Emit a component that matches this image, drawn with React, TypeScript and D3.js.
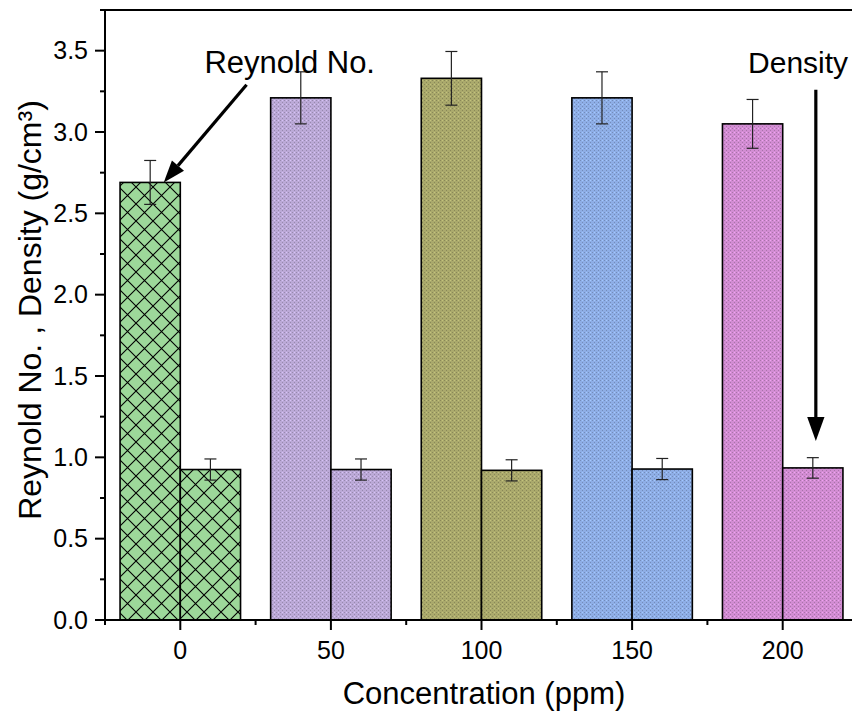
import React from 'react';
import * as d3 from 'd3';

const concentrations = [0, 50, 100, 150, 200];
const reynoldValues = [2.69, 3.21, 3.33, 3.21, 3.05];
const reynoldErrors = [0.135, 0.16, 0.165, 0.16, 0.15];
const densityValues = [0.925, 0.925, 0.92, 0.928, 0.935];
const densityErrors = [0.065, 0.065, 0.065, 0.065, 0.063];
const groupColors = ['#9dd89a', '#bba9d7', '#aaa96c', '#8eaee6', '#d28dd3'];
const yTicks = [0, 0.5, 1.0, 1.5, 2.0, 2.5, 3.0, 3.5];
const yMinorTicks = [0.25, 0.75, 1.25, 1.75, 2.25, 2.75, 3.25, 3.75];
const xMinorTicks = [-25, 25, 75, 125, 175, 225];

// annotation arrows in data units: [fromX, fromY, toX, toY]
const reynoldArrow = [22, 3.29, -5.5, 2.69];
const densityArrow = [211, 3.26, 211, 1.1];

const W = 852;
const H = 715;
const FONT = 'Arial, "Liberation Sans", sans-serif';

const x = d3.scaleLinear().domain([-25, 225]).range([105, 858]);
const y = d3.scaleLinear().domain([0, 3.75]).range([620, 10]);
const barW = x(20) - x(0);

function Arrow({ a, head }: { a: number[]; head: number }) {
  const x1 = x(a[0]), y1 = y(a[1]), x2 = x(a[2]), y2 = y(a[3]);
  const ang = Math.atan2(y2 - y1, x2 - x1);
  const bx = x2 - head * Math.cos(ang), by = y2 - head * Math.sin(ang);
  const hw = head * 0.36;
  const px = -Math.sin(ang) * hw, py = Math.cos(ang) * hw;
  return (
    <g>
      <line x1={x1} y1={y1} x2={bx} y2={by} stroke="#000" strokeWidth={3.2} />
      <path d={`M${x2},${y2}L${bx + px},${by + py}L${bx - px},${by - py}Z`} fill="#000" />
    </g>
  );
}

export default function App() {
  const errBar = (cx: number, v: number, e: number, k: string) => (
    <g key={k} stroke="#222" strokeWidth={1.2}>
      <line x1={cx} x2={cx} y1={y(v + e)} y2={y(v - e)} />
      <line x1={cx - 6} x2={cx + 6} y1={y(v + e)} y2={y(v + e)} />
      <line x1={cx - 6} x2={cx + 6} y1={y(v - e)} y2={y(v - e)} />
    </g>
  );

  return (
    <svg width={W} height={H} style={{ position: 'absolute', left: 0, top: 0, background: '#fff' }}
      fontFamily={FONT}>
      <defs>
        <pattern id="p0" width="17" height="17" patternUnits="userSpaceOnUse">
          <rect width="17" height="17" fill={groupColors[0]} />
          <path d="M0,0L17,17M17,0L0,17M-1,16L1,18M16,-1L18,1" stroke="#000" strokeWidth={1.1} />
        </pattern>
        {groupColors.slice(1).map((c, i) => (
          <pattern key={i} id={`p${i + 1}`} width="4" height="4" patternUnits="userSpaceOnUse">
            <rect width="4" height="4" fill={c} />
            <rect x="0" y="0" width="1" height="1" fill={d3.color(c)!.darker(0.6).toString()} />
            <rect x="2" y="2" width="1" height="1" fill={d3.color(c)!.darker(0.6).toString()} />
            <rect x="2" y="0" width="1" height="1" fill={d3.color(c)!.brighter(0.4).toString()} />
          </pattern>
        ))}
      </defs>

      {concentrations.map((c, i) => (
        <g key={c} stroke="#000" strokeWidth={1.6}>
          <rect x={x(c - 20)} y={y(reynoldValues[i])} width={barW} height={y(0) - y(reynoldValues[i])}
            fill={`url(#p${i})`} />
          <rect x={x(c)} y={y(densityValues[i])} width={barW} height={y(0) - y(densityValues[i])}
            fill={`url(#p${i})`} />
        </g>
      ))}
      {concentrations.map((c, i) => errBar(x(c - 10), reynoldValues[i], reynoldErrors[i], `r${c}`))}
      {concentrations.map((c, i) => errBar(x(c + 10), densityValues[i], densityErrors[i], `d${c}`))}

      {/* frame */}
      <line x1={x(-25)} x2={x(225)} y1={y(3.75)} y2={y(3.75)} stroke="#000" strokeWidth={2} />
      <line x1={x(225)} x2={x(225)} y1={y(3.75)} y2={y(0)} stroke="#000" strokeWidth={2} />

      {/* y axis */}
      <line x1={x(-25)} x2={x(-25)} y1={y(3.75)} y2={y(0) + 1} stroke="#000" strokeWidth={2} />
      {yTicks.map((t) => (
        <g key={t}>
          <line x1={x(-25) - 10} x2={x(-25)} y1={y(t)} y2={y(t)} stroke="#000" strokeWidth={2} />
          <text x={x(-25) - 17} y={y(t)} dy="0.35em" textAnchor="end" fontSize={25}>{t.toFixed(1)}</text>
        </g>
      ))}
      {yMinorTicks.map((t) => (
        <line key={t} x1={x(-25) - 5} x2={x(-25)} y1={y(t)} y2={y(t)} stroke="#000" strokeWidth={2} />
      ))}

      {/* x axis */}
      <line x1={x(-25) - 1} x2={x(225)} y1={y(0)} y2={y(0)} stroke="#000" strokeWidth={2} />
      {concentrations.map((t) => (
        <g key={t}>
          <line x1={x(t)} x2={x(t)} y1={y(0)} y2={y(0) + 10} stroke="#000" strokeWidth={2} />
          <text x={x(t)} y={659} textAnchor="middle" fontSize={25}>{t}</text>
        </g>
      ))}
      {xMinorTicks.map((t) => (
        <line key={t} x1={x(t)} x2={x(t)} y1={y(0)} y2={y(0) + 5} stroke="#000" strokeWidth={2} />
      ))}

      <text x={484} y={704} textAnchor="middle" fontSize={31}>Concentration (ppm)</text>
      <text transform="translate(41,310) rotate(-90)" textAnchor="middle" fontSize={32}>
        Reynold No. , Density (g/cm³)
      </text>

      <text x={x(8)} y={y(3.36)} fontSize={31}>Reynold No.</text>
      <text x={x(188.5)} y={y(3.36)} fontSize={30}>Density</text>
      <Arrow a={reynoldArrow} head={22} />
      <Arrow a={densityArrow} head={24} />
    </svg>
  );
}
